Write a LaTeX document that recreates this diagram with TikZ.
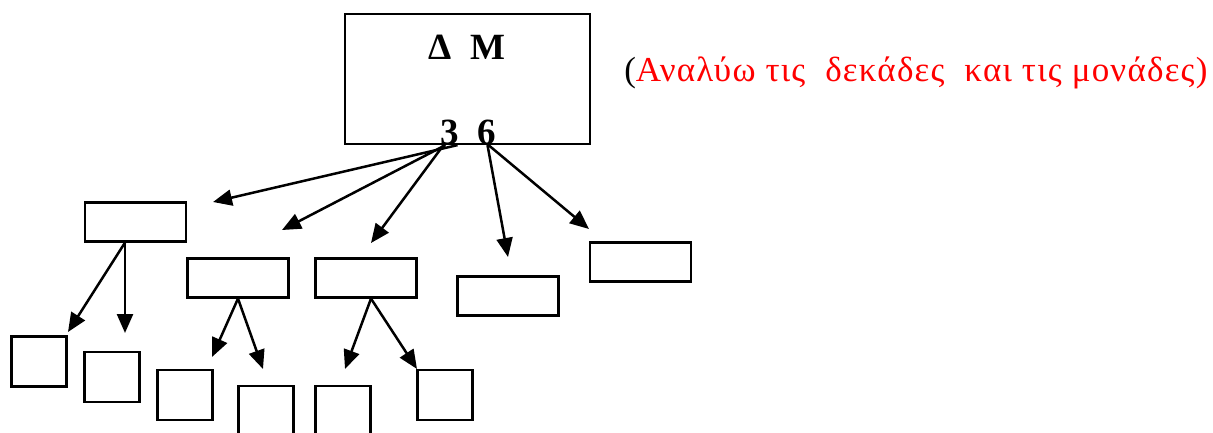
\documentclass[tikz,border=0pt]{standalone}
\usepackage{fontspec}
\setmainfont{Liberation Serif}
\usetikzlibrary{arrows.meta}
\tikzset{every picture/.style={line width=2.5pt}}

\begin{document}
\begin{tikzpicture}[x=1pt,y=1pt,yscale=-1,xscale=1,
  box/.style={draw, line width=2.2pt, inner sep=0pt},
  widebox/.style={box, minimum width=101pt, minimum height=39pt},
  smallbox/.style={box, minimum width=55pt, minimum height=50pt},
  arr/.style={-{Triangle[length=19pt,width=16pt]}, line width=2.5pt}]
\useasboundingbox (0,0) rectangle (1213,432);

% Text Node
\node [font=\bfseries\fontsize{37}{44}\selectfont, anchor=base] (dm) at (467,59) {Δ\ \ Μ};
% Text Node
\node [font=\bfseries\fontsize{37}{44}\selectfont, anchor=base] (num) at (468,144) {3\ \ 6};
%Shape: top box
\node [box, minimum width=245pt, minimum height=130pt] (top) at (467.5,79) {};
% Text Node
\node [font=\fontsize{35}{42}\selectfont\addfontfeature{LetterSpace=3.5}, anchor=base west, inner sep=0pt] (note) at (623,81) {(\textcolor{red}{Αναλύω τις\ \ δεκάδες\ \ και τις μονάδες)}};

%Shape: middle boxes
\node [widebox] (a) at (135.5,222) {};
\node [widebox] (b) at (238,278) {};
\node [widebox] (c) at (366,278) {};
\node [widebox] (d) at (508,296) {};
\node [widebox] (e) at (640.5,262) {};

%Shape: small boxes
\node [smallbox] (s1) at (39,361.5) {};
\node [smallbox] (s2) at (112,377) {};
\node [smallbox] (s3) at (185,395) {};
\node [smallbox] (s4) at (266,411) {};
\node [smallbox] (s5) at (343,411) {};
\node [smallbox] (s6) at (445,395) {};

%free arrow ends
\coordinate (t1) at (213,202);
\coordinate (t2) at (282,230);
\coordinate (t3) at (371,243);
\coordinate (t4) at (508,257);
\coordinate (t5) at (589,229);
\coordinate (a1) at (68,332);
\coordinate (a2) at (125,333);
\coordinate (b1) at (212,357);
\coordinate (b2) at (263,369);
\coordinate (c1) at (345,369);
\coordinate (c2) at (417,369);

%Arrows
\draw [arr] ([xshift=-10pt]top.south) -- (t1);
\draw [arr] ([xshift=-22pt]top.south) -- (t2);
\draw [arr] ([xshift=-24pt]top.south) -- (t3);
\draw [arr] ([xshift=20pt]top.south) -- (t4);
\draw [arr] ([xshift=21pt]top.south) -- (t5);
\draw [arr] ([xshift=-10.5pt]a.south) -- (a1);
\draw [arr] ([xshift=-10.5pt]a.south) -- (a2);
\draw [arr] (b.south) -- (b1);
\draw [arr] (b.south) -- (b2);
\draw [arr] ([xshift=5pt]c.south) -- (c1);
\draw [arr] ([xshift=5pt]c.south) -- (c2);

\end{tikzpicture}
\end{document}
